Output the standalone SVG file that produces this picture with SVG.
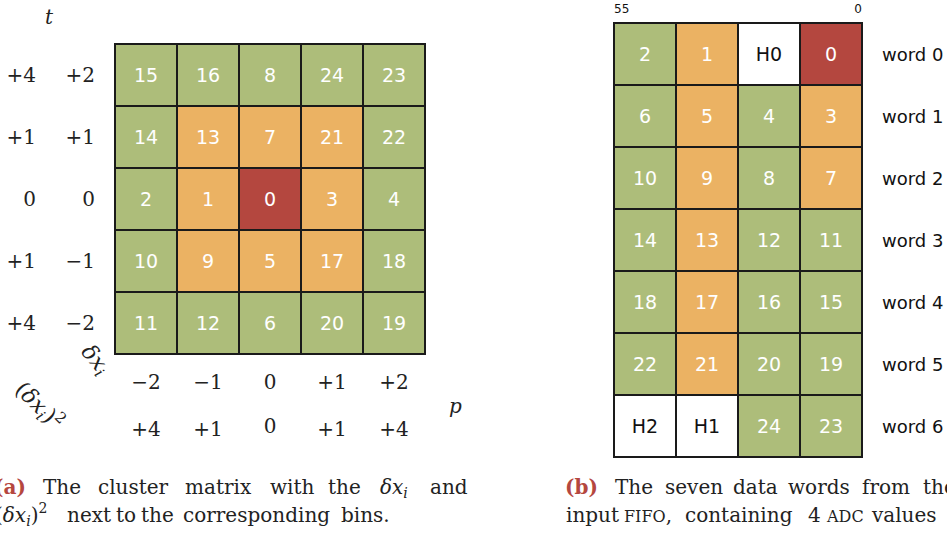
<svg xmlns="http://www.w3.org/2000/svg" width="947" height="534" viewBox="0 0 947 534">
<style>
.g{fill:#adbd7a}.o{fill:#ebb263}.r{fill:#b4473f}.w{fill:#ffffff}
rect{stroke:#1a1a1a;stroke-width:2}
.c{font-family:"DejaVu Sans",Arial,sans-serif;font-size:19px;fill:#ffffff;text-anchor:middle}
.k{fill:#111}
.m{font-family:"DejaVu Serif","Liberation Serif",serif;font-size:20px;fill:#222}
.it{font-style:italic}
.lbl{font-family:"DejaVu Sans",Arial,sans-serif;font-size:18px;fill:#111}
.cap{font-family:"DejaVu Serif","Liberation Serif",serif;font-size:20px;fill:#222}
.red{fill:#b5473f;font-weight:bold}
</style>
<g id="matrix">
<g id="m-15"><rect class="g" x="115" y="44" width="62" height="62"/><text class="c" x="146" y="82">15</text></g>
<g id="m-16"><rect class="g" x="177" y="44" width="62" height="62"/><text class="c" x="208" y="82">16</text></g>
<g id="m-8"><rect class="g" x="239" y="44" width="62" height="62"/><text class="c" x="270" y="82">8</text></g>
<g id="m-24"><rect class="g" x="301" y="44" width="62" height="62"/><text class="c" x="332" y="82">24</text></g>
<g id="m-23"><rect class="g" x="363" y="44" width="62" height="62"/><text class="c" x="394" y="82">23</text></g>
<g id="m-14"><rect class="g" x="115" y="106" width="62" height="62"/><text class="c" x="146" y="144">14</text></g>
<g id="m-13"><rect class="o" x="177" y="106" width="62" height="62"/><text class="c" x="208" y="144">13</text></g>
<g id="m-7"><rect class="o" x="239" y="106" width="62" height="62"/><text class="c" x="270" y="144">7</text></g>
<g id="m-21"><rect class="o" x="301" y="106" width="62" height="62"/><text class="c" x="332" y="144">21</text></g>
<g id="m-22"><rect class="g" x="363" y="106" width="62" height="62"/><text class="c" x="394" y="144">22</text></g>
<g id="m-2"><rect class="g" x="115" y="168" width="62" height="62"/><text class="c" x="146" y="206">2</text></g>
<g id="m-1"><rect class="o" x="177" y="168" width="62" height="62"/><text class="c" x="208" y="206">1</text></g>
<g id="m-0"><rect class="r" x="239" y="168" width="62" height="62"/><text class="c" x="270" y="206">0</text></g>
<g id="m-3"><rect class="o" x="301" y="168" width="62" height="62"/><text class="c" x="332" y="206">3</text></g>
<g id="m-4"><rect class="g" x="363" y="168" width="62" height="62"/><text class="c" x="394" y="206">4</text></g>
<g id="m-10"><rect class="g" x="115" y="230" width="62" height="62"/><text class="c" x="146" y="268">10</text></g>
<g id="m-9"><rect class="o" x="177" y="230" width="62" height="62"/><text class="c" x="208" y="268">9</text></g>
<g id="m-5"><rect class="o" x="239" y="230" width="62" height="62"/><text class="c" x="270" y="268">5</text></g>
<g id="m-17"><rect class="o" x="301" y="230" width="62" height="62"/><text class="c" x="332" y="268">17</text></g>
<g id="m-18"><rect class="g" x="363" y="230" width="62" height="62"/><text class="c" x="394" y="268">18</text></g>
<g id="m-11"><rect class="g" x="115" y="292" width="62" height="62"/><text class="c" x="146" y="330">11</text></g>
<g id="m-12"><rect class="g" x="177" y="292" width="62" height="62"/><text class="c" x="208" y="330">12</text></g>
<g id="m-6"><rect class="g" x="239" y="292" width="62" height="62"/><text class="c" x="270" y="330">6</text></g>
<g id="m-20"><rect class="g" x="301" y="292" width="62" height="62"/><text class="c" x="332" y="330">20</text></g>
<g id="m-19"><rect class="g" x="363" y="292" width="62" height="62"/><text class="c" x="394" y="330">19</text></g>
</g>
<g id="matrix-labels" class="m">
<text class="it" x="45" y="24">t</text>
<g text-anchor="end">
<text x="36" y="82">+4</text><text x="95" y="82">+2</text>
<text x="36" y="144">+1</text><text x="95" y="144">+1</text>
<text x="36" y="206">0</text><text x="95" y="206">0</text>
<text x="36" y="268">+1</text><text x="95" y="268">−1</text>
<text x="36" y="330">+4</text><text x="95" y="330">−2</text>
</g>
<g text-anchor="middle">
<text x="146" y="389">−2</text><text x="208" y="389">−1</text><text x="270" y="389">0</text><text x="332" y="389">+1</text><text x="394" y="389">+2</text>
<text x="146" y="436">+4</text><text x="208" y="436">+1</text><text x="270" y="433">0</text><text x="332" y="436">+1</text><text x="394" y="436">+4</text>
</g>
<text class="it" x="449" y="413">p</text>
<text transform="translate(90,364) rotate(50)" text-anchor="middle" font-size="22"><tspan class="it">δx</tspan><tspan class="it" font-size="15" dy="4">i</tspan></text>
<text transform="translate(34,411) rotate(45)" text-anchor="middle" font-size="22">(<tspan class="it">δx</tspan><tspan class="it" font-size="15" dy="4">i</tspan><tspan dy="-4">)</tspan><tspan font-size="15" dy="-9">2</tspan></text>
</g>
<g id="words">
<text x="614" y="13" font-family="DejaVu Sans,Arial,sans-serif" font-size="12" fill="#111">55</text>
<text x="862" y="13" text-anchor="end" font-family="DejaVu Sans,Arial,sans-serif" font-size="12" fill="#111">0</text>
<g id="w-2"><rect class="g" x="614" y="23" width="62" height="62"/><text class="c" x="645" y="61">2</text></g>
<g id="w-1"><rect class="o" x="676" y="23" width="62" height="62"/><text class="c" x="707" y="61">1</text></g>
<g id="w-H0"><rect class="w" x="738" y="23" width="62" height="62"/><text class="c k" x="769" y="61">H0</text></g>
<g id="w-0"><rect class="r" x="800" y="23" width="62" height="62"/><text class="c" x="831" y="61">0</text></g>
<g id="w-6"><rect class="g" x="614" y="85" width="62" height="62"/><text class="c" x="645" y="123">6</text></g>
<g id="w-5"><rect class="o" x="676" y="85" width="62" height="62"/><text class="c" x="707" y="123">5</text></g>
<g id="w-4"><rect class="g" x="738" y="85" width="62" height="62"/><text class="c" x="769" y="123">4</text></g>
<g id="w-3"><rect class="o" x="800" y="85" width="62" height="62"/><text class="c" x="831" y="123">3</text></g>
<g id="w-10"><rect class="g" x="614" y="147" width="62" height="62"/><text class="c" x="645" y="185">10</text></g>
<g id="w-9"><rect class="o" x="676" y="147" width="62" height="62"/><text class="c" x="707" y="185">9</text></g>
<g id="w-8"><rect class="g" x="738" y="147" width="62" height="62"/><text class="c" x="769" y="185">8</text></g>
<g id="w-7"><rect class="o" x="800" y="147" width="62" height="62"/><text class="c" x="831" y="185">7</text></g>
<g id="w-14"><rect class="g" x="614" y="209" width="62" height="62"/><text class="c" x="645" y="247">14</text></g>
<g id="w-13"><rect class="o" x="676" y="209" width="62" height="62"/><text class="c" x="707" y="247">13</text></g>
<g id="w-12"><rect class="g" x="738" y="209" width="62" height="62"/><text class="c" x="769" y="247">12</text></g>
<g id="w-11"><rect class="g" x="800" y="209" width="62" height="62"/><text class="c" x="831" y="247">11</text></g>
<g id="w-18"><rect class="g" x="614" y="271" width="62" height="62"/><text class="c" x="645" y="309">18</text></g>
<g id="w-17"><rect class="o" x="676" y="271" width="62" height="62"/><text class="c" x="707" y="309">17</text></g>
<g id="w-16"><rect class="g" x="738" y="271" width="62" height="62"/><text class="c" x="769" y="309">16</text></g>
<g id="w-15"><rect class="g" x="800" y="271" width="62" height="62"/><text class="c" x="831" y="309">15</text></g>
<g id="w-22"><rect class="g" x="614" y="333" width="62" height="62"/><text class="c" x="645" y="371">22</text></g>
<g id="w-21"><rect class="o" x="676" y="333" width="62" height="62"/><text class="c" x="707" y="371">21</text></g>
<g id="w-20"><rect class="g" x="738" y="333" width="62" height="62"/><text class="c" x="769" y="371">20</text></g>
<g id="w-19"><rect class="g" x="800" y="333" width="62" height="62"/><text class="c" x="831" y="371">19</text></g>
<g id="w-H2"><rect class="w" x="614" y="395" width="62" height="62"/><text class="c k" x="645" y="433">H2</text></g>
<g id="w-H1"><rect class="w" x="676" y="395" width="62" height="62"/><text class="c k" x="707" y="433">H1</text></g>
<g id="w-24"><rect class="g" x="738" y="395" width="62" height="62"/><text class="c" x="769" y="433">24</text></g>
<g id="w-23"><rect class="g" x="800" y="395" width="62" height="62"/><text class="c" x="831" y="433">23</text></g>
<g class="lbl">
<text x="882" y="61">word 0</text>
<text x="882" y="123">word 1</text>
<text x="882" y="185">word 2</text>
<text x="882" y="247">word 3</text>
<text x="882" y="309">word 4</text>
<text x="882" y="371">word 5</text>
<text x="882" y="433">word 6</text>
</g>
</g>
<g id="caption-a" class="cap">
<text y="494"><tspan class="red" x="-6">(a)</tspan><tspan x="43">The</tspan><tspan x="98">cluster</tspan><tspan x="185">matrix</tspan><tspan x="270">with</tspan><tspan x="328">the</tspan><tspan x="380" class="it">δx</tspan><tspan class="it" font-size="14" dy="4">i</tspan><tspan x="430" dy="-4">and</tspan></text>
<text y="522"><tspan x="-5">(</tspan><tspan class="it">δx</tspan><tspan class="it" font-size="14" dy="4">i</tspan><tspan dy="-4">)</tspan><tspan font-size="14" dy="-9">2</tspan><tspan x="67" dy="9">next</tspan><tspan x="116">to</tspan><tspan x="141">the</tspan><tspan x="183">corresponding</tspan><tspan x="341">bins.</tspan></text>
</g>
<g id="caption-b" class="cap">
<text y="494"><tspan class="red" x="565">(b)</tspan><tspan x="615">The</tspan><tspan x="665">seven</tspan><tspan x="733">data</tspan><tspan x="788">words</tspan><tspan x="862">from</tspan><tspan x="923">the</tspan></text>
<text y="522"><tspan x="566">input</tspan><tspan x="624" font-size="16">FIFO</tspan><tspan>,</tspan><tspan x="685">containing</tspan><tspan x="808">4</tspan><tspan x="827" font-size="16">ADC</tspan><tspan x="872">values</tspan></text>
</g>
</svg>
